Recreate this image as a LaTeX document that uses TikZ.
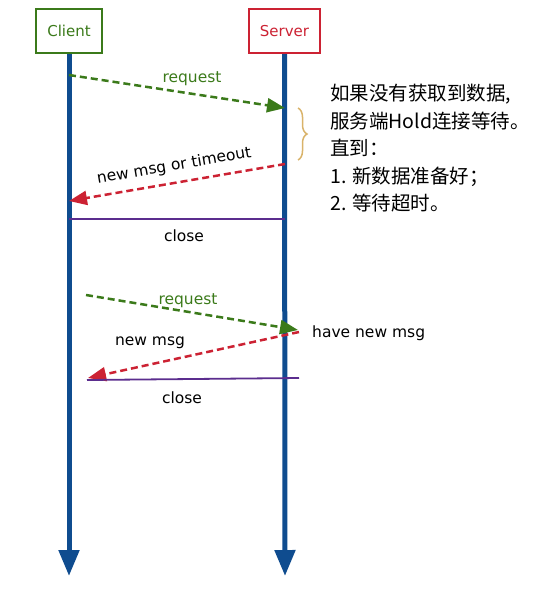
\documentclass[tikz,border=0pt]{standalone}
\usepackage{fontspec}
\setmainfont{DejaVu Sans}
\newfontfamily\cjk{Noto Sans CJK SC}
\usetikzlibrary{arrows.meta,decorations.pathreplacing,calc}
\definecolor{lifeblue}{HTML}{0F4C8F}
\definecolor{reqgreen}{HTML}{3B7A1A}
\definecolor{respred}{HTML}{CC2233}
\definecolor{closepurple}{HTML}{5B2D8E}
\definecolor{bracegold}{HTML}{D9B36A}
\tikzset{
  actor/.style={draw=#1, line width=2.2pt, fill=white, minimum width=66pt, minimum height=44pt, inner sep=0pt, font=\fontsize{15}{18}\selectfont, text=#1},
  life/.style={draw=lifeblue, line width=5pt, -{Triangle[width=20pt,length=26pt]}},
  req/.style={draw=reqgreen, line width=2.5pt, dash pattern=on 7pt off 4pt, -{Triangle[width=14pt,length=18pt]}},
  resp/.style={draw=respred, line width=2.5pt, dash pattern=on 7pt off 4pt, -{Triangle[width=14pt,length=18pt]}},
  closeline/.style={draw=closepurple, line width=1.8pt},
  lbl/.style={font=\fontsize{15.5}{17}\selectfont, inner sep=1pt},
  greenlbl/.style={lbl, text=reqgreen},
}
\begin{document}
\begin{tikzpicture}[x=1pt,y=-1pt]
\useasboundingbox (0,0) rectangle (551,589);
% actors
\node[actor=reqgreen] (client) at (69,31) {Client};
\node[actor=respred, minimum width=71pt] (server) at (284.5,31) {Server};
\coordinate (cend) at (69,576);
\coordinate (send) at (285,576);
\draw[life] (client.south) -- (cend);
\draw[life] (server.south) -- (send);
% first round
\coordinate (c1) at (69,75);
\coordinate (s1) at (285,108);
\draw[req] (c1) -- (s1);
\node[greenlbl] (req1) at (192,79) {request};
\coordinate (s2) at (285,164);
\coordinate (c2) at (69,201);
\draw[resp] (s2) -- node[lbl, sloped, above=7pt, pos=0.5] (resp1) {new msg or timeout} (c2);
\coordinate (c3) at (69,219);
\coordinate (s3) at (285,219);
\draw[closeline] (c3) -- (s3);
\node[lbl] (close1) at (184,236) {close};
% brace
\coordinate (b1) at (298,108);
\coordinate (b2) at (298,160);
\draw[bracegold, line width=1.5pt, decorate, decoration={brace, amplitude=9pt}] (b1) -- (b2);
\node[anchor=north west, align=left, inner sep=0pt, font=\cjk\fontsize{19.5}{27.5}\selectfont] (note) at (330,84)
{如果没有获取到数据,\\服务端Hold连接等待。\\直到：\\1. 新数据准备好；\\2. 等待超时。};
% second round
\coordinate (c4) at (86,295);
\coordinate (s4) at (298,330);
\draw[req] (c4) -- (s4);
\node[greenlbl] (req2) at (188,301) {request};
\coordinate (s5) at (299,332);
\coordinate (c5) at (88,378);
\draw[resp] (s5) -- (c5);
\node[lbl] (resp2) at (150,343) {new msg};
\node[lbl, anchor=west] (have) at (311,333) {have new msg};
\coordinate (c6) at (87,380);
\coordinate (s6) at (299,378);
\draw[closeline] (c6) -- (s6);
\node[lbl] (close2) at (182,398) {close};
\end{tikzpicture}
\end{document}
